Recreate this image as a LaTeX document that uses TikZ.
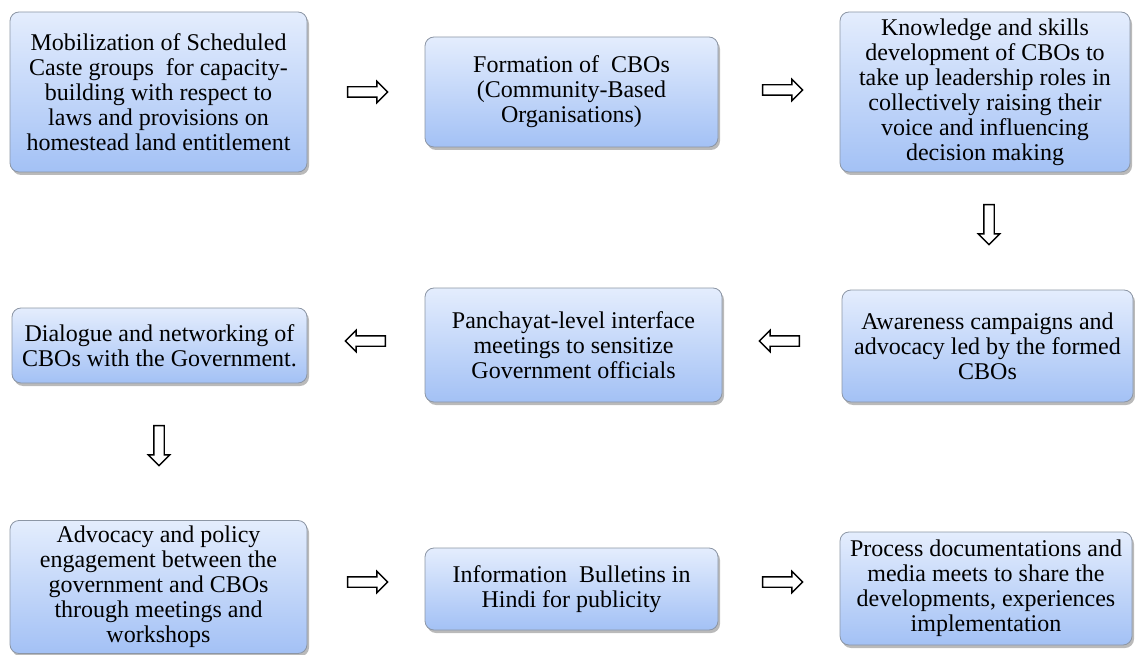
\documentclass[tikz,border=0pt]{standalone}
\usepackage{fontspec}
\setmainfont{Liberation Serif}
\usetikzlibrary{shapes.arrows,shadows,calc}
\definecolor{boxtop}{RGB}{228,237,253}
\definecolor{boxbot}{RGB}{163,193,245}
\definecolor{boxline}{RGB}{140,150,165}
\tikzset{
  flowbox/.style={rectangle, rounded corners=9pt, draw=boxline, line width=0.8pt,
    top color=boxtop, bottom color=boxbot, align=center, inner sep=1pt,
    font=\fontsize{24}{25}\selectfont,
    drop shadow={shadow xshift=2pt, shadow yshift=-3pt, opacity=0.45, fill=black!60}},
  blockarrow/.style={single arrow, draw=black, fill=white, line width=1.4pt,
    inner sep=4.5pt, minimum height=40pt,
    single arrow head extend=5.5pt, single arrow head indent=0pt}
}
\begin{document}
\begin{tikzpicture}[x=1pt,y=-1pt]
\useasboundingbox (0,0) rectangle (1135,655);
\node[flowbox, minimum width=297pt, minimum height=160pt] (b1) at (158.5,92)
  {Mobilization of Scheduled\\Caste groups\ \ for capacity-\\building with respect to\\laws and provisions on\\homestead land entitlement};
\node[flowbox, minimum width=293pt, minimum height=110pt] (b2) at (571.5,92)
  {Formation of\ \ CBOs\\(Community-Based\\Organisations)};
\node[flowbox, minimum width=290pt, minimum height=160pt] (b3) at (985,92)
  {Knowledge and skills\\development of CBOs to\\take up leadership roles in\\collectively raising their\\voice and influencing\\decision making};
\node[flowbox, minimum width=295pt, minimum height=75pt] (b4) at (159.5,345.5)
  {Dialogue and networking of\\CBOs with the Government.};
\node[flowbox, minimum width=297pt, minimum height=114pt] (b5) at (573.5,345)
  {Panchayat-level interface\\meetings to sensitize\\Government officials};
\node[flowbox, minimum width=291pt, minimum height=112pt] (b6) at (987.5,346)
  {Awareness campaigns and\\advocacy led by the formed\\CBOs};
\node[flowbox, minimum width=297pt, minimum height=133pt] (b7) at (158.5,587)
  {Advocacy and policy\\engagement between the\\government and CBOs\\through meetings and\\workshops};
\node[flowbox, minimum width=293pt, minimum height=82pt] (b8) at (571.5,589)
  {Information\ \ Bulletins in\\Hindi for publicity};
\node[flowbox, minimum width=292pt, minimum height=113pt] (b9) at (986,588.5)
  {Process documentations and\\media meets to share the\\developments, experiences\\implementation};
% block arrows between boxes
\node[blockarrow, shape border rotate=0] (a12) at (365,92) {};
\node[blockarrow, shape border rotate=0] (a23) at (780,90) {};
\node[blockarrow, shape border rotate=270] (a36) at (989,222) {};
\node[blockarrow, shape border rotate=180] (a65) at (782,341) {};
\node[blockarrow, shape border rotate=180] (a54) at (368,341) {};
\node[blockarrow, shape border rotate=270] (a47) at (159,443) {};
\node[blockarrow, shape border rotate=0] (a78) at (365,582) {};
\node[blockarrow, shape border rotate=0] (a89) at (780,582) {};
\end{tikzpicture}
\end{document}
